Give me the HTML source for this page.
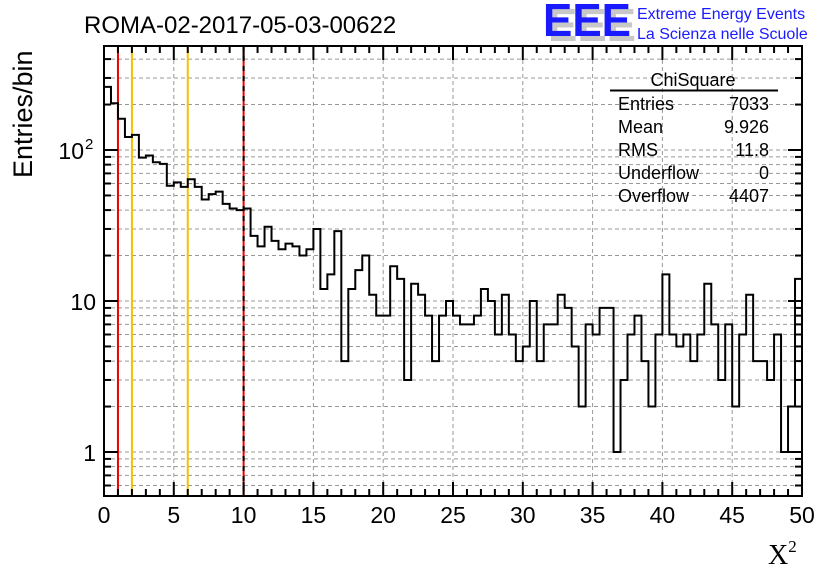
<!DOCTYPE html>
<html><head><meta charset="utf-8"><style>
body{margin:0;background:#fff;}
svg{display:block;font-family:"Liberation Sans",sans-serif;}
</style></head><body>
<svg id="chart" width="836" height="572" viewBox="0 0 836 572">
<rect width="836" height="572" fill="#fff"/>
<g id="grid"></g>
<g id="cuts"></g>
<g id="hist"></g>
<g id="axes"></g>
<text x="84" y="33" font-size="24">ROMA-02-2017-05-03-00622</text>
<g>
<text x="548" y="41" font-size="46" font-weight="bold" fill="#c8c8c8" textLength="88" lengthAdjust="spacingAndGlyphs">EEE</text>
<text x="543" y="36" font-size="46" font-weight="bold" fill="#1a1aff" textLength="88" lengthAdjust="spacingAndGlyphs">EEE</text>
<text x="637" y="19" font-size="16" fill="#1a1aff">Extreme Energy Events</text>
<text x="637" y="39" font-size="16" fill="#1a1aff">La Scienza nelle Scuole</text>
</g>
<g font-size="18">
<text x="693" y="86" text-anchor="middle">ChiSquare</text>
<line x1="610" y1="90.5" x2="778" y2="90.5" stroke="#000" stroke-width="2"/>
<text x="618" y="110">Entries</text><text x="769" y="110" text-anchor="end">7033</text>
<text x="618" y="133">Mean</text><text x="769" y="133" text-anchor="end">9.926</text>
<text x="618" y="156">RMS</text><text x="769" y="156" text-anchor="end">11.8</text>
<text x="618" y="179">Underflow</text><text x="769" y="179" text-anchor="end">0</text>
<text x="618" y="202">Overflow</text><text x="769" y="202" text-anchor="end">4407</text>
</g>
<text transform="translate(32,178) rotate(-90)" font-size="27">Entries/bin</text>
<text x="768" y="564" font-size="28" font-family="Liberation Serif,serif">X<tspan font-size="17" dy="-12">2</tspan></text>
</svg>
<script>
const counts = [262,204,161,122,126,89,92,83,81,58,61,57,64,57,47,51,53,44,41,40,
41,27,23,31,25,22,24,23,20,22,30,12,15,29,4,12,16,20,11,8,
8,17,14,3,13,11,8,4,8,10,8,7,7,8,12,10,6,11,6,4,
5,10,4,7,7,11,9,5,2,7,6,9,9,1,3,6,8,4,2,6,
15,6,5,6,4,6,13,7,3,7,2,6,11,4,4,3,6,1,2,14];
const xTicks = [0,5,10,15,20,25,30,35,40,45,50];
const yTicks = [1,10,100];
const yTickBase = ["1","10","10"];
const yTickExp = ["","","2"];
const cutLines = [1,2,6,10];
const cutColors = ["#e00","#f5c000","#f5c000","#e00"];
const xMin=0,xMax=50,binW=0.5;
const L=104,R=802,T=46,B=496;
const X=v=>L+(v-xMin)/(xMax-xMin)*(R-L);
const Y=v=>452-Math.log10(v)*151;
const NS="http://www.w3.org/2000/svg";
function mk(parent,tag,attrs){const e=document.createElementNS(NS,tag);for(const k in attrs)e.setAttribute(k,attrs[k]);parent.appendChild(e);return e;}
const grid=document.getElementById('grid');
for(let v=5;v<50;v+=5){const l=mk(grid,'line',{x1:X(v),x2:X(v),y1:T,y2:B,stroke:'#999','stroke-width':1,'stroke-dasharray':'4,3'});

}
for(let d=0.1;d<=100;d*=10){for(let m=1;m<10;m++){const v=Math.round(d*m*1000)/1000;const y=Y(v);if(y<T||y>B)continue;
const l=mk(grid,'line',{x1:L,x2:R,y1:y,y2:y,stroke:'#999','stroke-width':1,'stroke-dasharray':'4,3'});

}}
const cuts=document.getElementById('cuts');
cutLines.forEach((c,i)=>{const l=mk(cuts,'line',{x1:X(c),x2:X(c),y1:T,y2:B,stroke:cutColors[i],'stroke-width':2});

});
const dl=mk(cuts,'line',{x1:X(10),x2:X(10),y1:T,y2:B,stroke:'#000','stroke-width':2,'stroke-dasharray':'5,5'});


let d='';
counts.forEach((c,i)=>{const x0=X(xMin+i*binW),x1=X(xMin+(i+1)*binW);const y=Math.max(T,Math.min(B,Y(c)));
d+=(i===0?'M'+x0+','+y:'L'+x0+','+y)+'L'+x1+','+y;});
const hp=mk(document.getElementById('hist'),'path',{d:d,fill:'none',stroke:'#000','stroke-width':2});


const ax=document.getElementById('axes');
const fr=mk(ax,'rect',{x:L,y:T,width:R-L,height:B-T,fill:'none',stroke:'#000','stroke-width':2});


for(let v=0;v<=50;v++){const maj=v%5===0;const len=maj?14:7;const x=X(v);
mk(ax,'line',{x1:x,x2:x,y1:B,y2:B-len,stroke:'#000','stroke-width':2});
mk(ax,'line',{x1:x,x2:x,y1:T,y2:T+len,stroke:'#000','stroke-width':2});}
xTicks.forEach(v=>{const t=mk(ax,'text',{x:X(v),y:523,'font-size':23,'text-anchor':'middle'});t.textContent=v;

});
for(let d2=0.1;d2<=100;d2*=10){for(let m=1;m<10;m++){const v=d2*m;const y=Y(v);if(y<T||y>B)continue;const len=m===1?14:7;
mk(ax,'line',{x1:L,x2:L+len,y1:y,y2:y,stroke:'#000','stroke-width':2});
mk(ax,'line',{x1:R,x2:R-len,y1:y,y2:y,stroke:'#000','stroke-width':2});}}
yTicks.forEach((v,i)=>{const hasExp=yTickExp[i]!=='';
const t=mk(ax,'text',{x:hasExp?84:96,y:Y(v)+9,'font-size':23,'text-anchor':'end'});t.textContent=yTickBase[i];


if(hasExp){const e=mk(ax,'text',{x:85,y:Y(v)-1,'font-size':15,'text-anchor':'start'});e.textContent=yTickExp[i];

}});
</script>
</body></html>
